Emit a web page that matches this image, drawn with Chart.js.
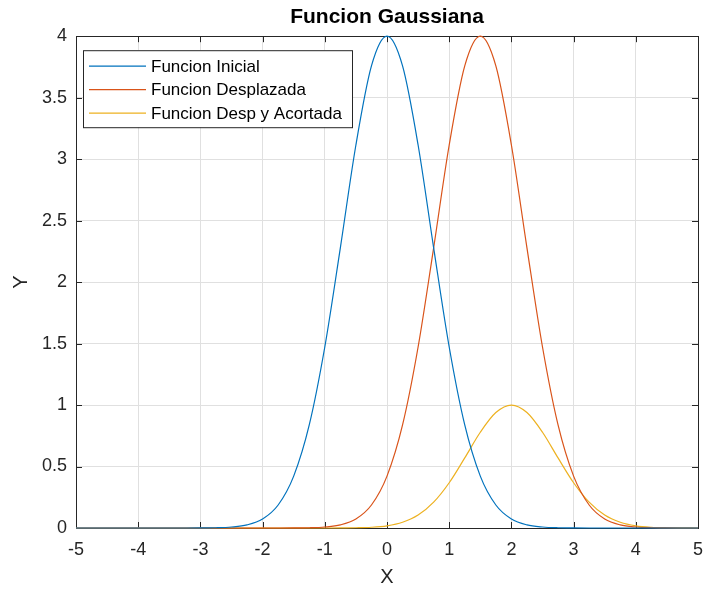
<!DOCTYPE html>
<html>
<head>
<meta charset="utf-8">
<script src="https://cdn.jsdelivr.net/npm/chart.js@4.4.1/dist/chart.umd.min.js"></script>
<style>
  html, body { margin: 0; padding: 0; background: #ffffff; }
  #wrap { width: 705px; height: 593px; }
</style>
</head>
<body>
<div id="wrap"><canvas id="gaussChart" width="705" height="593"></canvas></div>
<script>
// x positions (step 0.25)
const xValues = [
  -5, -4.75, -4.5, -4.25, -4, -3.75, -3.5, -3.25, -3, -2.75, -2.5, -2.25, -2, -1.75,
  -1.5, -1.25, -1, -0.75, -0.5, -0.25, 0, 0.25, 0.5, 0.75, 1, 1.25, 1.5, 1.75,
  2, 2.25, 2.5, 2.75, 3, 3.25, 3.5, 3.75, 4, 4.25, 4.5, 4.75, 5,
];

// Funcion Inicial (peak 4 at x=0)
const inicialValues = [
  0, 0, 0, 0, 0, 0, 0, 0, 0.0005, 0.002, 0.008, 0.025, 0.073, 0.187,
  0.422, 0.838, 1.472, 2.279, 3.115, 3.758, 4, 3.758, 3.115, 2.279, 1.472, 0.838, 0.422, 0.187,
  0.073, 0.025, 0.008, 0.002, 0.0005, 0, 0, 0, 0, 0, 0, 0, 0,
];

// Funcion Desplazada (peak 4 at x=1.5)
const desplazadaValues = [
  0, 0, 0, 0, 0, 0, 0, 0, 0, 0, 0, 0, 0, 0,
  0.0005, 0.002, 0.008, 0.025, 0.073, 0.187, 0.422, 0.838, 1.472, 2.279, 3.115, 3.758, 4, 3.758,
  3.115, 2.279, 1.472, 0.838, 0.422, 0.187, 0.073, 0.025, 0.008, 0.002, 0.0005, 0, 0,
];

// Funcion Desp y Acortada (peak 1 at x=2)
const acortadaValues = [
  0, 0, 0, 0, 0, 0, 0, 0, 0, 0, 0, 0, 0, 0,
  0, 0, 0.0001, 0.0005, 0.002, 0.006, 0.018, 0.047, 0.105, 0.21, 0.368, 0.57, 0.779, 0.939,
  1, 0.939, 0.779, 0.57, 0.368, 0.21, 0.105, 0.047, 0.018, 0.006, 0.002, 0.0005, 0.0001,
];

const seriesLabels = ["Funcion Inicial", "Funcion Desplazada", "Funcion Desp y Acortada"];
const seriesColors = ["#0072BD", "#D95319", "#EDB120"];

const toPoints = (ys) => ys.map((y, i) => ({ x: xValues[i], y: y }));

// box + inward ticks, matlab style
const boxPlugin = {
  id: "boxPlugin",
  beforeDatasetsDraw(chart) {
    const { ctx, chartArea: a, scales } = chart;
    ctx.save();
    ctx.strokeStyle = "#262626";
    ctx.lineWidth = 1;
    ctx.strokeRect(Math.round(a.left) + 0.5, Math.round(a.top) + 0.5,
      Math.round(a.right - a.left), Math.round(a.bottom - a.top));
    const len = 6;
    ctx.beginPath();
    scales.x.ticks.forEach((t) => {
      const px = Math.round(scales.x.getPixelForValue(t.value)) + 0.5;
      ctx.moveTo(px, a.bottom); ctx.lineTo(px, a.bottom - len);
      ctx.moveTo(px, a.top); ctx.lineTo(px, a.top + len);
    });
    scales.y.ticks.forEach((t) => {
      const py = Math.round(scales.y.getPixelForValue(t.value)) + 0.5;
      ctx.moveTo(a.left, py); ctx.lineTo(a.left + len, py);
      ctx.moveTo(a.right, py); ctx.lineTo(a.right - len, py);
    });
    ctx.stroke();
    ctx.restore();
  },
  afterDatasetsDraw(chart) {
    // legend box in upper left
    const { ctx, chartArea: a } = chart;
    const x0 = a.left + 7, y0 = a.top + 14, w = 269, h = 77;
    ctx.save();
    ctx.fillStyle = "#ffffff";
    ctx.fillRect(x0, y0, w, h);
    ctx.strokeStyle = "#262626";
    ctx.lineWidth = 1;
    ctx.strokeRect(x0 + 0.5, y0 + 0.5, w, h);
    ctx.font = "17px 'Liberation Sans', Arial, sans-serif";
    ctx.textBaseline = "middle";
    chart.data.datasets.forEach((ds, i) => {
      const ly = y0 + 16 + i * 23.5;
      ctx.strokeStyle = ds.borderColor;
      ctx.lineWidth = 1.2;
      ctx.beginPath();
      ctx.moveTo(x0 + 6, ly);
      ctx.lineTo(x0 + 63, ly);
      ctx.stroke();
      ctx.fillStyle = "#000000";
      ctx.fillText(ds.label, x0 + 68, ly + 1);
    });
    ctx.restore();
  },
};

const ctx = document.getElementById("gaussChart");
new Chart(ctx, {
  type: "line",
  data: {
    datasets: [
      { label: seriesLabels[0], data: toPoints(inicialValues), borderColor: seriesColors[0] },
      { label: seriesLabels[1], data: toPoints(desplazadaValues), borderColor: seriesColors[1] },
      { label: seriesLabels[2], data: toPoints(acortadaValues), borderColor: seriesColors[2] },
    ],
  },
  options: {
    responsive: false,
    animation: false,
    layout: { padding: { left: 0, right: 7, top: 0, bottom: 0 } },
    elements: {
      point: { radius: 0 },
      line: { borderWidth: 1.2, cubicInterpolationMode: "monotone", fill: false },
    },
    datasets: { line: { clip: false } },
    scales: {
      x: {
        type: "linear",
        min: -5,
        max: 5,
        ticks: {
          stepSize: 1,
          padding: 11,
          color: "#262626",
          font: { family: "'Liberation Sans', Arial, sans-serif", size: 18 },
        },
        grid: { color: "#e0e0e0", drawTicks: false },
        border: { display: false },
        title: {
          display: true,
          text: "X",
          color: "#262626",
          padding: { top: 0, bottom: 4 },
          font: { family: "'Liberation Sans', Arial, sans-serif", size: 20 },
        },
        afterFit: (scale) => {
          scale.height = 65;
          scale.paddingLeft = 0;
          scale.paddingRight = 0;
        },
      },
      y: {
        min: 0,
        max: 4,
        ticks: {
          stepSize: 0.5,
          padding: 9,
          color: "#262626",
          font: { family: "'Liberation Sans', Arial, sans-serif", size: 18 },
          callback: (v) => String(v),
        },
        grid: { color: "#e0e0e0", drawTicks: false },
        border: { display: false },
        title: {
          display: true,
          text: "Y",
          color: "#262626",
          padding: { top: 9, bottom: 0 },
          font: { family: "'Liberation Sans', Arial, sans-serif", size: 20 },
        },
        afterFit: (scale) => {
          scale.width = 76;
          scale.paddingTop = 0;
          scale.paddingBottom = 0;
        },
      },
    },
    plugins: {
      legend: { display: false },
      tooltip: { enabled: false },
      title: {
        display: true,
        fullSize: false, // centre over the plot area, not the canvas
        text: "Funcion Gaussiana",
        color: "#000000",
        padding: { top: 5, bottom: 6 },
        font: { family: "'Liberation Sans', Arial, sans-serif", size: 21, weight: "bold" },
      },
    },
  },
  plugins: [boxPlugin],
});
</script>
</body>
</html>
